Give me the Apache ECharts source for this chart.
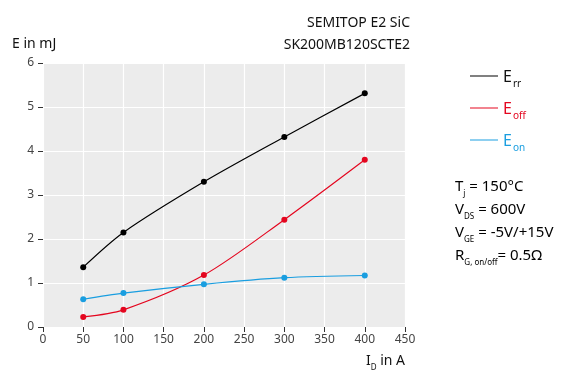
<!DOCTYPE html>
<html>
<head>
<meta charset="utf-8">
<script src="https://cdn.jsdelivr.net/npm/echarts@6/dist/echarts.min.js"></script>
<style>
  html, body { margin: 0; padding: 0; background: #fff; }
  #chart { width: 573px; height: 370px; }
</style>
</head>
<body>
<div id="chart"></div>
<script>
// Switching energies vs. drain current, Tj = 150 °C
const currents = [50, 100, 200, 300, 400];          // I_D in A
const errValues = [1.36, 2.15, 3.30, 4.32, 5.31];  // E_rr in mJ
const eoffValues = [0.23, 0.39, 1.18, 2.44, 3.80]; // E_off in mJ
const eonValues = [0.63, 0.77, 0.97, 1.12, 1.17];  // E_on in mJ
const xTicks = [0, 50, 100, 150, 200, 250, 300, 350, 400, 450];
const yTicks = [0, 1, 2, 3, 4, 5, 6];

const FONT = 'Noto Sans';
const RED = '#e4061f';
const BLUE = '#1a9ee0';

const pairs = vals => currents.map((c, i) => [c, vals[i]]);

function seriesOf(name, vals, color) {
  return {
    name, type: 'line', data: pairs(vals), smooth: 0.3,
    symbol: 'circle', symbolSize: 6,
    lineStyle: { color, width: 1.2 },
    itemStyle: { color },
    z: 3
  };
}

function legendRich(color) {
  return {
    m: { fontFamily: FONT, fontSize: 16, color, lineHeight: 18, verticalAlign: 'bottom' },
    s: { fontFamily: FONT, fontSize: 10, color, lineHeight: 18, verticalAlign: 'bottom', padding: [0, 0, -4, 1] }
  };
}

function legendOf(name, sub, color, top) {
  return {
    data: [{ name, icon: 'rect' }],
    left: 465, top,
    itemWidth: 28, itemHeight: 1,
    itemGap: 0,
    textStyle: { rich: legendRich(color) },
    formatter: () => '{m|E}{s|' + sub + '}',
    selectedMode: false
  };
}

const condRich = {
  m: { fontFamily: FONT, fontSize: 15, color: '#111', lineHeight: 23, verticalAlign: 'bottom' },
  s: { fontFamily: FONT, fontSize: 8, color: '#111', lineHeight: 23, verticalAlign: 'bottom', padding: [0, 0, -4, 0] }
};

const chart = echarts.init(document.getElementById('chart'), null, { renderer: 'canvas' });
chart.setOption({
  animation: false,
  title: {
    text: 'SEMITOP E2 SiC\nSK200MB120SCTE2',
    left: 405, top: 7, textAlign: 'right',
    textStyle: { fontFamily: FONT, fontSize: 14, fontWeight: 'normal', color: '#111', lineHeight: 22 }
  },
  legend: [
    legendOf('Err', 'rr', '#111', 64),
    legendOf('Eoff', 'off', RED, 96),
    legendOf('Eon', 'on', BLUE, 128)
  ],
  grid: { left: 43, right: 168, top: 63, bottom: 43, show: true, backgroundColor: '#ececec', borderWidth: 0 },
  xAxis: {
    type: 'value', min: 0, max: 450, interval: 50,
    axisLine: { show: false },
    axisTick: { show: true, length: 5, lineStyle: { color: '#333' } },
    axisLabel: { fontFamily: FONT, fontSize: 12, color: '#444', margin: 7 },
    splitLine: { show: true, lineStyle: { color: '#ffffff', width: 1.2 } }
  },
  yAxis: {
    type: 'value', min: 0, max: 6, interval: 1,
    axisLine: { show: false },
    axisTick: { show: true, length: 5, lineStyle: { color: '#333' } },
    axisLabel: { fontFamily: FONT, fontSize: 12, color: '#444', margin: 9 },
    splitLine: { show: true, lineStyle: { color: '#ffffff', width: 1.2 } }
  },
  series: [
    seriesOf('Err', errValues, '#000'),
    seriesOf('Eoff', eoffValues, RED),
    seriesOf('Eon', eonValues, BLUE)
  ],
  graphic: [
    { type: 'text', left: 12, top: 37,
      style: { text: 'E in mJ', font: '14px "Noto Sans"', fill: '#111' } },
    { type: 'text', right: 168, top: 354,
      style: { text: '{m|I}{s|D}{m| in A}', rich: {
        m: { fontFamily: FONT, fontSize: 14, fill: '#111', color: '#111', lineHeight: 18, verticalAlign: 'bottom' },
        s: { fontFamily: FONT, fontSize: 8, fill: '#111', color: '#111', lineHeight: 18, verticalAlign: 'bottom', padding: [0, 0, -4, 0] }
      } } },
    { type: 'text', left: 455, top: 179,
      style: {
        text: '{m|T}{s|j}{m| = 150°C}\n{m|V}{s|DS}{m| = 600V}\n{m|V}{s|GE}{m| = -5V/+15V}\n{m|R}{s|G, on/off}{m|= 0.5Ω}',
        rich: condRich
      } }
  ]
});
</script>
</body>
</html>
